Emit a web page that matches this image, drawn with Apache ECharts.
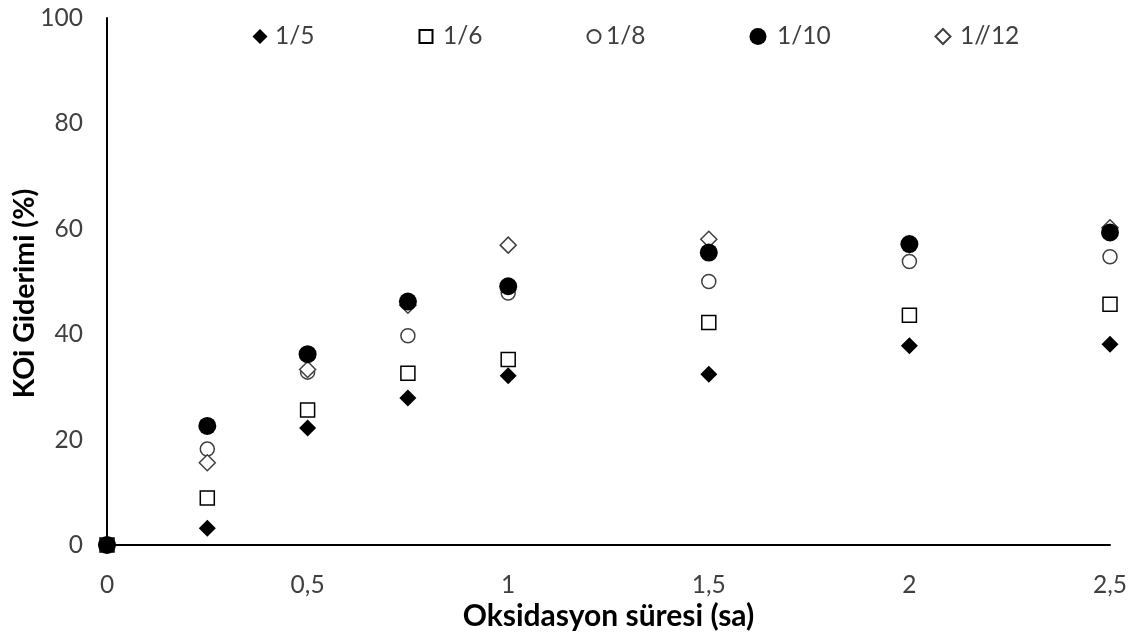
<!DOCTYPE html>
<html>
<head>
<meta charset="utf-8">
<script src="https://cdn.jsdelivr.net/npm/echarts@6/dist/echarts.min.js"></script>
<style>html,body{margin:0;padding:0;background:#fff;}#c{width:1139px;height:637px;}</style>
</head>
<body>
<div id="c"></div>
<script>
var times = [0, 0.25, 0.5, 0.75, 1, 1.5, 2, 2.5];
var xTickLabels = {"0": "0", "0.5": "0,5", "1": "1", "1.5": "1,5", "2": "2", "2.5": "2,5"};
var s15 = [0, 3.2, 22.2, 27.9, 32.1, 32.4, 37.8, 38.1];
var s16 = [0, 8.9, 25.6, 32.6, 35.2, 42.2, 43.6, 45.7];
var s18 = [0, 18.2, 32.8, 39.7, 47.8, 50.0, 53.8, 54.7];
var s110 = [0, 22.6, 36.2, 46.2, 49.1, 55.5, 57.1, 59.3];
var s112 = [0, 15.6, 33.3, 45.5, 56.9, 58.0, 57.0, 60.2];
var names = ["1/5", "1/6", "1/8", "1/10", "1//12"];

function pairs(arr){ return times.map(function(t,i){ return [t, arr[i]]; }); }

var FONT = "Lato, 'Open Sans', sans-serif";
var chart = echarts.init(document.getElementById('c'));

function leg(name, left, w, h, p){
  return {
    data: [name], left: left, top: 24, itemWidth: w, itemHeight: h, itemGap: 0,
    padding: 0, selectedMode: false,
    textStyle: {fontFamily: FONT, fontSize: 24.5, color: '#404040', padding: [0,0,0,p]}
  };
}

chart.setOption({
  animation: false,
  backgroundColor: '#fff',
  grid: {left: 107, right: 29, top: 18, bottom: 92, containLabel: false, outerBoundsMode: 'none'},
  legend: [
    leg(names[0], 252.5, 15, 15, 2.5),
    leg(names[1], 418.5, 13, 13, 5.5),
    leg(names[2], 586.5, 13, 13, 0.5),
    leg(names[3], 749.5, 17, 17, 5.5),
    leg(names[4], 934.5, 15, 15, 4.5)
  ],
  xAxis: {
    type: 'value', min: 0, max: 2.5, interval: 0.5,
    name: 'Oksidasyon süresi (sa)', nameLocation: 'middle', nameGap: 56, nameMoveOverlap: false,
    nameTextStyle: {fontFamily: FONT, fontSize: 30, fontWeight: 'bold', color: '#000'},
    axisLine: {show: true, onZero: false, lineStyle: {color: '#000', width: 2}},
    axisTick: {show: false},
    splitLine: {show: false},
    axisLabel: {fontFamily: FONT, fontSize: 24.5, color: '#404040', margin: 28,
      formatter: function(v){ var k = String(v); return xTickLabels[k] !== undefined ? xTickLabels[k] : k; }}
  },
  yAxis: {
    type: 'value', min: 0, max: 100, interval: 20,
    name: 'KOi Giderimi (%)', nameLocation: 'middle', nameGap: 68, nameMoveOverlap: false,
    nameTextStyle: {fontFamily: FONT, fontSize: 28.5, fontWeight: 'bold', color: '#000', padding: [0, 24, 0, 0]},
    axisLine: {show: true, lineStyle: {color: '#000', width: 2}},
    axisTick: {show: false},
    splitLine: {show: false},
    axisLabel: {fontFamily: FONT, fontSize: 24.5, color: '#404040', margin: 24}
  },
  series: [
    {name: names[0], type: 'scatter', data: pairs(s15), symbol: 'diamond', symbolSize: 17,
      itemStyle: {color: '#000', opacity: 1}},
    {name: names[1], type: 'scatter', data: pairs(s16), symbol: 'rect', symbolSize: 14,
      itemStyle: {color: '#fff', borderColor: '#000', borderWidth: 1.5, opacity: 1}},
    {name: names[2], type: 'scatter', data: pairs(s18), symbol: 'circle', symbolSize: 14,
      itemStyle: {color: '#fff', borderColor: '#404040', borderWidth: 1.5, opacity: 1}},
    {name: names[4], type: 'scatter', data: pairs(s112), symbol: 'diamond', symbolSize: 16,
      itemStyle: {color: '#fff', borderColor: '#404040', borderWidth: 1.5, opacity: 1}},
    {name: names[3], type: 'scatter', data: pairs(s110), symbol: 'circle', symbolSize: 18,
      itemStyle: {color: '#000', opacity: 1}}
  ]
});
</script>
</body>
</html>
